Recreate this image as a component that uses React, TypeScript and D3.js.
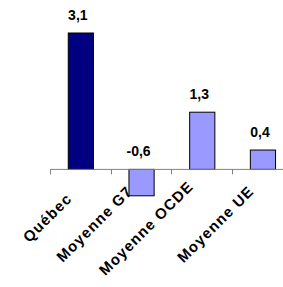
import React from "react";
import * as d3 from "d3";

const categories = ["Québec", "Moyenne G7", "Moyenne OCDE", "Moyenne UE"];
const values = [3.1, -0.6, 1.3, 0.44];
const barColors = ["#000080", "#9999FF", "#9999FF", "#9999FF"];

const W = 283;
const H = 287;
const LABEL_SIZE = 15;
const LABEL_SPACING = 1.1;
const FONT = "'Liberation Sans', Arial, sans-serif";

function measure(text: string): number {
  if (typeof document === "undefined") return text.length * 9;
  const canvas = document.createElement("canvas");
  const ctx = canvas.getContext("2d");
  if (!ctx) return text.length * 9;
  ctx.font = `bold ${LABEL_SIZE}px ${FONT}`;
  return ctx.measureText(text).width + LABEL_SPACING * text.length;
}

export default function App() {
  const x = d3
    .scaleBand<string>()
    .domain(categories)
    .range([50, 50 + 4 * 60.7])
    .paddingInner(0.585)
    .paddingOuter(0.2925);
  const y = d3.scaleLinear().domain([-1, 3.5]).range([213.4, 15.4]);
  const y0 = y(0);
  const step = x.step();
  const fmt = (v: number) => v.toFixed(1).replace(".", ",");
  const lengths = categories.map(measure);
  const maxLen = d3.max(lengths) ?? 0;

  return (
    <svg
      width={W}
      height={H}
      style={{ position: "absolute", left: 0, top: 0, background: "#fff" }}
    >
      <rect x={0} y={0} width={W} height={H} fill="#fff" />
      {categories.map((c, i) => {
        const v = values[i];
        const top = y(Math.max(0, v));
        const bottom = y(Math.min(0, v));
        return (
          <rect
            key={c}
            x={x(c)! + 0.5}
            y={top}
            width={x.bandwidth()}
            height={bottom - top}
            fill={barColors[i]}
            stroke="#000"
            strokeWidth={1}
          />
        );
      })}
      <line x1={50} x2={W} y1={y0} y2={y0} stroke="#808080" strokeWidth={1} />
      {categories.map((c, i) => {
        const tx = Math.round(50 + i * step) + 0.5;
        return (
          <line key={c} x1={tx} x2={tx} y1={y0} y2={y0 + 5} stroke="#808080" strokeWidth={1} />
        );
      })}
      {categories.map((c, i) => {
        const v = values[i];
        const cx = x(c)! + x.bandwidth() / 2 - 2.5;
        const ty = y(Math.max(0, v)) - 13;
        return (
          <text
            key={c}
            x={cx}
            y={ty}
            textAnchor="middle"
            fontFamily={FONT}
            fontWeight="bold"
            fontSize={14}
            fill="#000"
          >
            {fmt(v)}
          </text>
        );
      })}
      {categories.map((c, i) => {
        const px = x(c)! + x.bandwidth() / 2 - 7.5;
        const py = y0 + 18 + 0.19 * (maxLen - lengths[i]);
        return (
          <text
            key={c}
            x={px}
            y={py}
            textAnchor="end"
            transform={`rotate(-45 ${px} ${py})`}
            fontFamily={FONT}
            fontWeight="bold"
            fontSize={LABEL_SIZE}
            letterSpacing={LABEL_SPACING}
            fill="#000"
          >
            {c}
          </text>
        );
      })}
    </svg>
  );
}
